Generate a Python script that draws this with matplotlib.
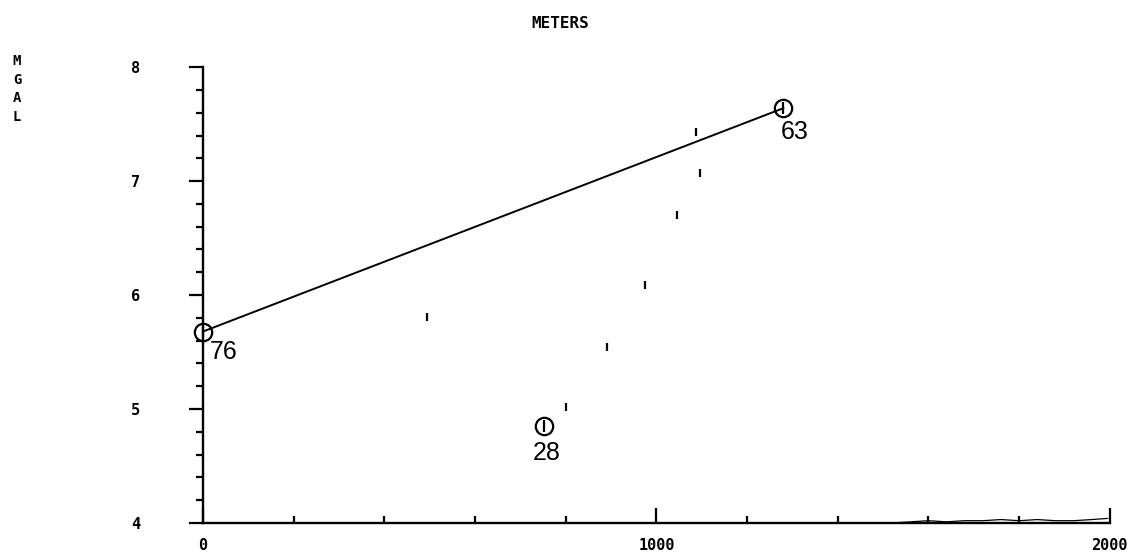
import matplotlib.pyplot as plt
from matplotlib.ticker import MultipleLocator

# stations (circled), with station numbers
station_x = [0, 1280, 752]
station_y = [5.68, 7.64, 4.85]
station_id = ['76', '63', '28']

# profile line between the two end stations
line_x = [0, 1280]
line_y = [5.68, 7.64]

# intermediate readings, plotted as small ticks
pt_x = [493, 800, 891, 975, 1045, 1097, 1087]
pt_y = [5.81, 5.02, 5.54, 6.09, 6.70, 7.07, 7.43]

# trace along the bottom edge
trace_x = [1520, 1560, 1600, 1640, 1680, 1720, 1760, 1800, 1840, 1880, 1920, 1960, 1995]
trace_y = [4.00, 4.01, 4.02, 4.01, 4.02, 4.02, 4.03, 4.02, 4.03, 4.02, 4.02, 4.03, 4.04]

xticks = [0, 1000, 2000]
xtick_labels = ['0', '1000', '2000']
yticks = [4, 5, 6, 7, 8]
ytick_labels = ['4', '5', '6', '7', '8']

fig = plt.figure(figsize=(11.29, 5.55), dpi=100)
ax = fig.add_axes([0.1798, 0.0577, 0.8032, 0.8213])

ax.plot(line_x, line_y, color='black', lw=1.4)
ax.plot(station_x, station_y, 'o', ms=12.5, mfc='none', mec='black', mew=1.6, clip_on=False)
ax.plot(station_x, station_y, '|', ms=8, color='black', mew=1.6, clip_on=False)
ax.plot(pt_x, pt_y, '|', ms=6, color='black', mew=1.6)
ax.plot(trace_x, trace_y, color='black', lw=0.9)

offsets = {'76': (5, -15), '63': (-2, -17), '28': (-8, -19)}
for x, y, s in zip(station_x, station_y, station_id):
    ax.annotate(s, (x, y), xytext=offsets[s], textcoords='offset points',
                fontsize=18, family='Liberation Sans', va='center', ha='left')

ax.set_xlim(0, 2000)
ax.set_ylim(4, 8)
ax.spines['top'].set_visible(False)
ax.spines['right'].set_visible(False)
ax.spines['left'].set_linewidth(1.7)
ax.spines['bottom'].set_linewidth(1.7)

ax.set_xticks(xticks)
ax.set_xticklabels(xtick_labels, fontsize=11, fontweight='bold', family='DejaVu Sans Mono')
ax.xaxis.set_minor_locator(MultipleLocator(200))
ax.tick_params(axis='x', which='major', direction='in', length=11, width=1.6, pad=11)
ax.tick_params(axis='x', which='minor', direction='in', length=5, width=1.6)

ax.set_yticks(yticks)
ax.set_yticklabels(ytick_labels, fontsize=11, fontweight='bold', family='DejaVu Sans Mono')
ax.yaxis.set_minor_locator(MultipleLocator(0.2))
ax.tick_params(axis='y', which='major', direction='out', length=10, width=1.6, pad=35)
ax.tick_params(axis='y', which='minor', direction='out', length=5, width=1.6)

fig.text(560 / 1129, 1 - 23 / 555, 'METERS', fontsize=11.5, fontweight='bold',
         family='DejaVu Sans Mono', ha='center', va='center')
fig.text(17 / 1129, 1 - 89 / 555, 'M\nG\nA\nL', fontsize=10, fontweight='bold',
         family='DejaVu Sans Mono', ha='center', va='center', linespacing=1.45)

fig.savefig('out.png', dpi=100)
